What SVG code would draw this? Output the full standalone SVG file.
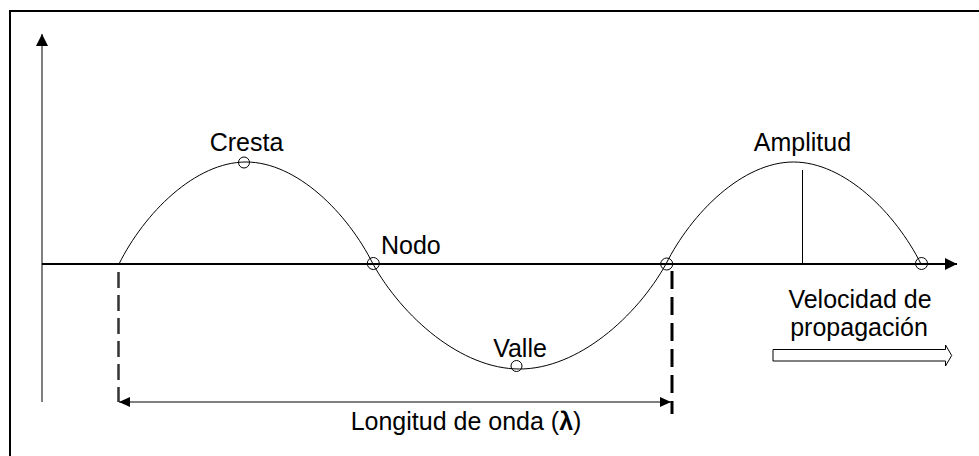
<svg xmlns="http://www.w3.org/2000/svg" width="979" height="456" viewBox="0 0 979 456">
<style>
.t{font-family:"Liberation Sans",Arial,sans-serif;font-size:25px;fill:#000}
.thin{fill:none;stroke:#000;stroke-width:1}
.axis{fill:none;stroke:#000;stroke-width:2}
.mk{fill:none;stroke:#000;stroke-width:1}
</style>
<defs>
<marker id="ah" markerUnits="userSpaceOnUse" markerWidth="12" markerHeight="12" refX="12" refY="6" orient="auto" viewBox="0 0 12 12">
<path d="M0,0 L12,6 L0,12 Z" fill="#000"/>
</marker>
<marker id="ah2" markerUnits="userSpaceOnUse" markerWidth="11" markerHeight="10" refX="11" refY="5" orient="auto-start-reverse" viewBox="0 0 11 10">
<path d="M0,0 L11,5 L0,10 Z" fill="#000"/>
</marker>
</defs>
<rect width="979" height="456" fill="#fff"/>
<rect id="frame" x="10" y="11" width="990" height="470" fill="none" stroke="#000" stroke-width="2"/>
<g id="connectors">
<line id="y-axis" x1="42" y1="402" x2="42" y2="34" class="thin" stroke-width="1.3" marker-end="url(#ah)"/>
<line id="x-axis" x1="42" y1="264" x2="957" y2="264" class="axis" marker-end="url(#ah)"/>
<path id="wave" class="thin" d="M119,264 C144.4,213 195.2,162 246,162 C296.8,162 347.6,213 373,264 C402.3,316.5 460.9,369 519.5,369 C578.1,369 636.7,316.5 666,264 C691.5,213 742.5,162 793.5,162 C844.5,162 895.5,213 921,264"/>
<line id="amplitude" x1="802.5" y1="170" x2="802.5" y2="264" class="thin"/>
<line id="dash-left" x1="118.5" y1="265" x2="118.5" y2="402" stroke="#333" stroke-width="2.5" stroke-dasharray="16,7" stroke-dashoffset="-7"/>
<line id="dash-right" x1="672" y1="265" x2="672" y2="414" stroke="#000" stroke-width="3" stroke-dasharray="18,8" stroke-dashoffset="-6"/>
<line id="wavelength" x1="119" y1="402" x2="671" y2="402" class="thin" marker-start="url(#ah2)" marker-end="url(#ah2)"/>
</g>
<g id="crest"><circle cx="244" cy="162.5" r="5.5" class="mk"/><text class="t" x="246.5" y="151" text-anchor="middle">Cresta</text></g>
<g id="node1"><circle cx="373.3" cy="263.5" r="6" class="mk"/><text class="t" x="381" y="254">Nodo</text></g>
<g id="valley"><circle cx="516.5" cy="366" r="5.5" class="mk"/><text class="t" x="520" y="357" text-anchor="middle">Valle</text></g>
<g id="node2"><circle cx="666.7" cy="264" r="6" class="mk"/></g>
<g id="end"><circle cx="921.5" cy="263.5" r="6" class="mk"/></g>
<g id="amplitud"><text class="t" x="802.5" y="151" text-anchor="middle">Amplitud</text></g>
<g id="velocidad">
<text class="t" x="860" y="308" text-anchor="middle">Velocidad de</text>
<text class="t" x="859" y="336" text-anchor="middle">propagación</text>
<polygon points="773,349.5 945.5,349.5 945.5,345 951.7,355.5 945.5,366 945.5,361 773,361" fill="#fff" stroke="#000" stroke-width="1"/>
</g>
<g id="longitud"><text class="t" x="466" y="430" text-anchor="middle">Longitud de onda (<tspan font-weight="bold">λ</tspan>)</text></g>
</svg>
